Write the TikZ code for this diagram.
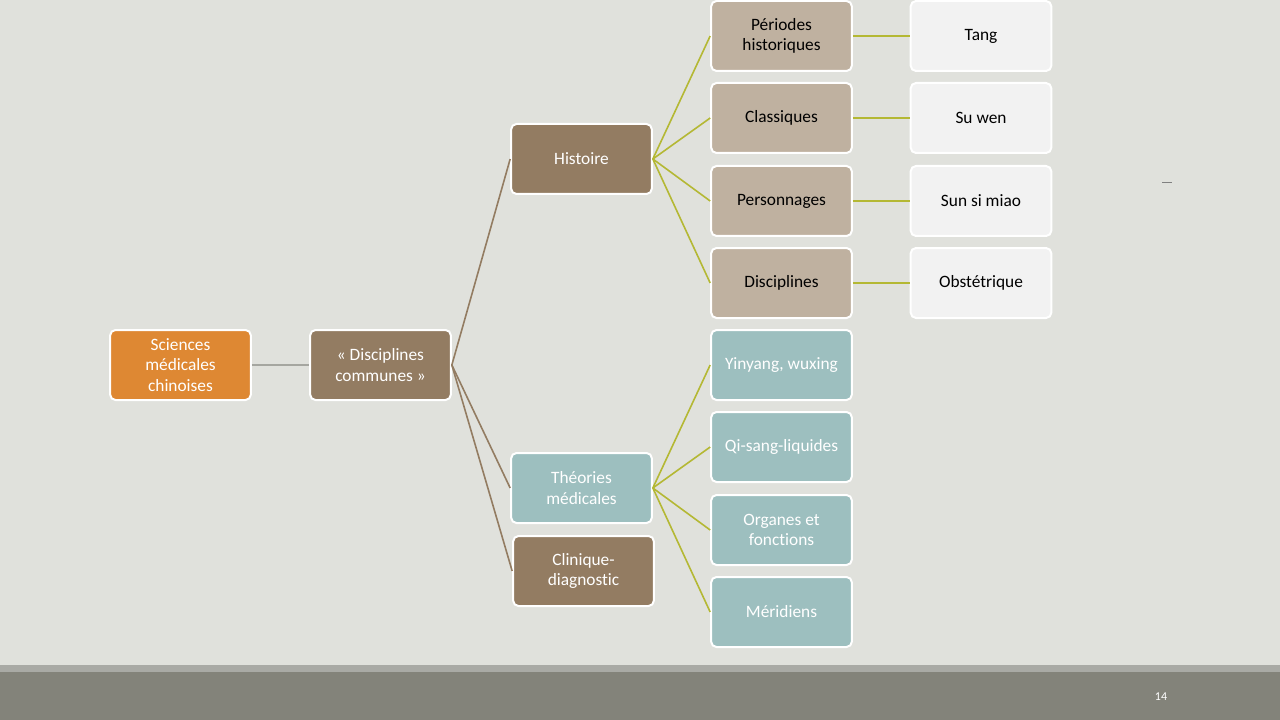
\documentclass[tikz,border=0pt]{standalone}
\usepackage{fontspec}
\setmainfont{Carlito}[Ligatures=NoCommon]
\definecolor{bg}{HTML}{E0E1DC}
\definecolor{orng}{HTML}{DE8833}
\definecolor{brwn}{HTML}{937C62}
\definecolor{lbrwn}{HTML}{BFB1A0}
\definecolor{teal}{HTML}{9DBFBF}
\definecolor{wht}{HTML}{F2F2F2}
\definecolor{olive}{HTML}{B4B834}
\definecolor{band}{HTML}{83837A}
\definecolor{bandl}{HTML}{A9AAA5}
\definecolor{gline}{HTML}{A5A6A0}
\begin{document}
\begin{tikzpicture}[x=0.75pt,y=-0.75pt,
  box/.style={draw=white,line width=1.5pt,rounded corners=4pt,minimum width=105.5pt,minimum height=52.5pt,
    align=center,font=\fontsize{13}{15.5}\selectfont,inner sep=1pt},
  orbox/.style={box,fill=orng,text=white},
  brbox/.style={box,fill=brwn,text=white},
  lbbox/.style={box,fill=lbrwn,text=black},
  tlbox/.style={box,fill=teal,text=white},
  whbox/.style={box,fill=wht,text=black},
  gcon/.style={draw=gline,line width=1.5pt},
  bcon/.style={draw=brwn,line width=1.2pt},
  ocon/.style={draw=olive,line width=1.2pt},
  ocon2/.style={draw=olive,line width=2pt}]
\fill[bg] (0,0) rectangle (1280,720);
\useasboundingbox (0,0) rectangle (1280,720);
\fill[bandl] (0,665) rectangle (1280,672);
\fill[band] (0,672) rectangle (1280,720);
\node[text=white,font=\fontsize{9}{10}\selectfont] (pg) at (1161,697) {14};
\draw[gray,line width=0.6pt] (1162,182) -- (1172,182);

\node[orbox] (sci) at (180.5,365) {Sciences\\médicales\\chinoises};
\node[brbox] (dc) at (380.5,365) {« Disciplines\\communes »};
\node[brbox] (hist) at (581.5,159) {Histoire};
\node[tlbox] (theo) at (581.5,488) {Théories\\médicales};
\node[brbox] (clin) at (583.5,571) {Clinique-\\diagnostic};

\node[lbbox] (per) at (781.5,36) {Périodes\\historiques};
\node[lbbox] (cla) at (781.5,118) {Classiques};
\node[lbbox] (pers) at (781.5,201) {Personnages};
\node[lbbox] (disc) at (781.5,283) {Disciplines};

\node[whbox] (tang) at (981,36) {Tang};
\node[whbox] (su) at (981,118) {Su wen};
\node[whbox] (sun) at (981,201) {Sun si miao};
\node[whbox] (obs) at (981,283) {Obstétrique};

\node[tlbox] (yy) at (781.5,365) {Yinyang, wuxing};
\node[tlbox] (qi) at (781.5,447) {Qi-sang-liquides};
\node[tlbox] (org) at (781.5,530) {Organes et\\fonctions};
\node[tlbox] (mer) at (781.5,612) {Méridiens};

\draw[gcon] (sci.east) -- (dc.west);
\draw[bcon] (dc.east) -- (hist.west);
\draw[bcon] (dc.east) -- (theo.west);
\draw[bcon] (dc.east) -- (clin.west);
\foreach \c in {per,cla,pers,disc} \draw[ocon] (hist.east) -- (\c.west);
\foreach \c in {yy,qi,org,mer} \draw[ocon] (theo.east) -- (\c.west);
\draw[ocon2] (per.east) -- (tang.west);
\draw[ocon2] (cla.east) -- (su.west);
\draw[ocon2] (pers.east) -- (sun.west);
\draw[ocon2] (disc.east) -- (obs.west);
\end{tikzpicture}
\end{document}
